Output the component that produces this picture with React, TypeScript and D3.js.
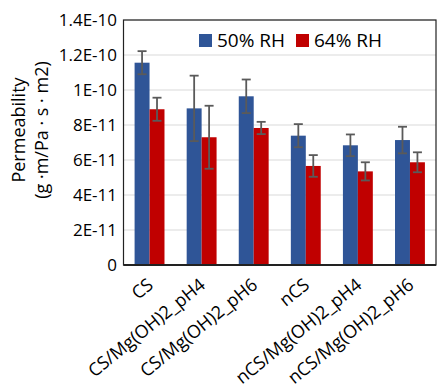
import React from "react";
import * as d3 from "d3";

const categories = [
  "CS",
  "CS/Mg(OH)2_pH4",
  "CS/Mg(OH)2_pH6",
  "nCS",
  "nCS/Mg(OH)2_pH4",
  "nCS/Mg(OH)2_pH6",
];
const seriesNames = ["50% RH", "64% RH"];
const seriesColors = ["#2F5597", "#C00000"];
const rh50 = [1.156e-10, 8.95e-11, 9.64e-11, 7.39e-11, 6.84e-11, 7.14e-11];
const rh50Err = [6.6e-12, 1.87e-11, 9.6e-12, 6.6e-12, 6.2e-12, 7.6e-12];
const rh64 = [8.9e-11, 7.3e-11, 7.83e-11, 5.66e-11, 5.35e-11, 5.87e-11];
const rh64Err = [6.6e-12, 1.8e-11, 3.5e-12, 6.2e-12, 5.2e-12, 5.7e-12];
const yTickValues = [0, 2e-11, 4e-11, 6e-11, 8e-11, 1e-10, 1.2e-10, 1.4e-10];
const yTickLabels = ["0", "2E-11", "4E-11", "6E-11", "8E-11", "1E-10", "1.2E-10", "1.4E-10"];

const W = 437;
const H = 387;
const left = 123.5;
const right = 436;
const top = 20;
const bottom = 265;
const font = "'Open Sans', sans-serif";

export default function App() {
  const x = d3
    .scaleBand<string>()
    .domain(categories)
    .range([left, right])
    .paddingInner(0.426)
    .paddingOuter(0.213);
  const sub = d3.scaleBand<number>().domain([0, 1]).range([0, x.bandwidth()]);
  const y = d3.scaleLinear().domain([0, 1.4e-10]).range([bottom, top]);

  const series = [
    { values: rh50, errs: rh50Err },
    { values: rh64, errs: rh64Err },
  ];

  return (
    <svg
      width={W}
      height={H}
      style={{ position: "absolute", left: 0, top: 0, background: "#fff" }}
      fontFamily={font}
    >
      {/* gridlines */}
      {yTickValues.map((t) => (
        <line key={"g" + t} x1={left} x2={right} y1={y(t)} y2={y(t)} stroke="#d9d9d9" strokeWidth={1.2} />
      ))}
      {/* y tick labels */}
      {yTickValues.map((t, i) => (
        <text key={"t" + t} x={117} y={y(t)} dy="0.36em" textAnchor="end" fontSize={17} fill="#000">
          {yTickLabels[i]}
        </text>
      ))}
      {/* bars */}
      {series.map((s, si) =>
        categories.map((c, ci) => {
          const bx = (x(c) as number) + (sub(si) as number);
          return (
            <rect
              key={`b${si}-${ci}`}
              x={bx}
              y={y(s.values[ci])}
              width={sub.bandwidth()}
              height={bottom - y(s.values[ci])}
              fill={seriesColors[si]}
            />
          );
        })
      )}
      {/* error bars */}
      {series.map((s, si) =>
        categories.map((c, ci) => {
          const cx = (x(c) as number) + (sub(si) as number) + sub.bandwidth() / 2;
          const y1 = y(s.values[ci] + s.errs[ci]);
          const y2 = y(s.values[ci] - s.errs[ci]);
          return (
            <g key={`e${si}-${ci}`} stroke="#5a5a5a" strokeWidth={1.8}>
              <line x1={cx} x2={cx} y1={y1} y2={y2} />
              <line x1={cx - 4.5} x2={cx + 4.5} y1={y1} y2={y1} />
              <line x1={cx - 4.5} x2={cx + 4.5} y1={y2} y2={y2} />
            </g>
          );
        })
      )}
      {/* frame */}
      <rect x={left} y={top} width={right - left} height={bottom - top} fill="none" stroke="#222" strokeWidth={1.2} />
      <line x1={left} x2={right} y1={bottom} y2={bottom} stroke="#222" strokeWidth={2} />
      {/* x labels */}
      {categories.map((c) => {
        const cx = (x(c) as number) + x.bandwidth() / 2;
        return (
          <text
            key={"x" + c}
            transform={`translate(${cx + 5},${287}) rotate(-39)`}
            textAnchor="end"
            fontSize={18}
            fill="#000"
          >
            {c}
          </text>
        );
      })}
      {/* y title */}
      <text transform={`translate(25,130) rotate(-90)`} textAnchor="middle" fontSize={18} fill="#000">
        Permeability
      </text>
      <text transform={`translate(48,130) rotate(-90)`} textAnchor="middle" fontSize={18} fill="#000">
        (g ·m/Pa · s · m2)
      </text>
      {/* legend */}
      {seriesNames.map((n, i) => {
        const lx = [199, 296][i];
        return (
          <g key={"l" + n}>
            <rect x={lx} y={34} width={13} height={13} fill={seriesColors[i]} />
            <text x={lx + 18} y={47} fontSize={19} fill="#000">
              {n}
            </text>
          </g>
        );
      })}
    </svg>
  );
}
